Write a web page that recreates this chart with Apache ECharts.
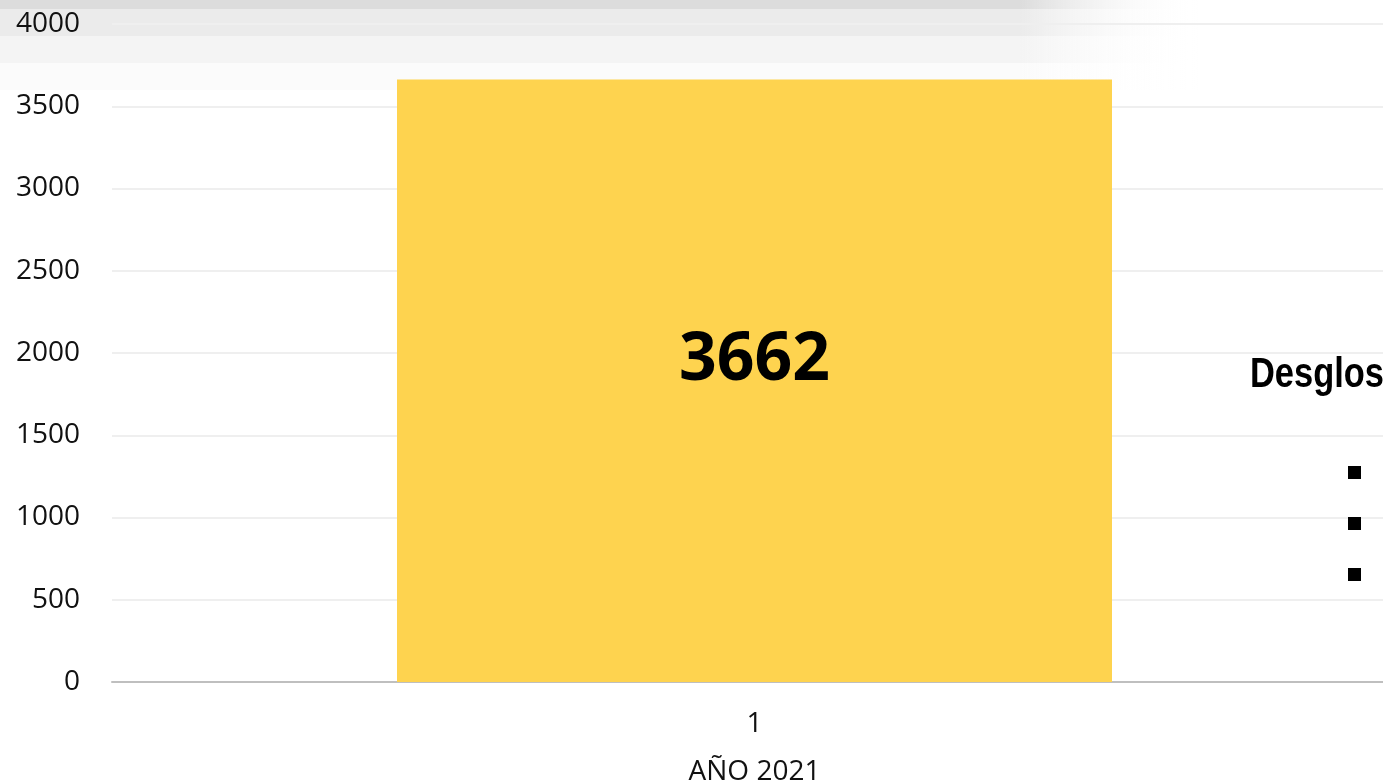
<!DOCTYPE html>
<html><head><meta charset="utf-8">
<script src="https://cdn.jsdelivr.net/npm/echarts@6/dist/echarts.min.js"></script>
<style>html,body{margin:0;padding:0;background:#fff}#c{width:1383px;height:784px}</style>
</head><body><div id="c"></div>
<script>
const categories = ['1'];
const values = [3662];
const yTicks = [0, 500, 1000, 1500, 2000, 2500, 3000, 3500, 4000];
const xAxisTitle = 'AÑO 2021';
const legendTitle = 'Desglos';

const chart = echarts.init(document.getElementById('c'));
function band(y, h, color) {
  return {type:'rect', z:-10, shape:{x:0,y:y,width:1200,height:h}, style:{fill:new echarts.graphic.LinearGradient(0,0,1,0,[{offset:0,color:color},{offset:0.85,color:color},{offset:1,color:'rgba(255,255,255,0)'}])}, silent:true};
}
chart.setOption({
  animation:false,
  grid:{left:112, right:-14, top:24, bottom:102, containLabel:false, outerBoundsMode:'none'},
  xAxis:{type:'category', data:categories, name:xAxisTitle, nameLocation:'middle', nameGap:76,
    nameTextStyle:{fontFamily:'Open Sans', fontSize:28, color:'#111'},
    axisLine:{lineStyle:{color:'#bfbfbf', width:2}}, axisTick:{show:false},
    axisLabel:{fontFamily:'Open Sans', fontSize:28, color:'#111', margin:28}},
  yAxis:{type:'value', min:yTicks[0], max:yTicks[yTicks.length-1], interval:500,
    axisLine:{show:false}, axisTick:{show:false},
    splitLine:{lineStyle:{color:'#efefef', width:2}},
    axisLabel:{fontFamily:'Open Sans', fontSize:28, color:'#111', margin:32, formatter:v=>String(v)}},
  graphic:[
    band(0,9,'#dcdcdc'), band(9,27,'#ebebeb'), band(36,27,'#f4f4f4'), band(63,27,'#fbfbfb'),
    {type:'text', z:100, x:1250, y:354, scaleX:0.82, style:{text:legendTitle, font:'bold 42px "Liberation Sans"', fill:'#000'}},
    {type:'rect', z:100, shape:{x:1348,y:466,width:13,height:13}, style:{fill:'#000'}},
    {type:'rect', z:100, shape:{x:1348,y:517,width:13,height:13}, style:{fill:'#000'}},
    {type:'rect', z:100, shape:{x:1348,y:568,width:13,height:13}, style:{fill:'#000'}}
  ],
  series:[{type:'bar', data:values, barWidth:715,
    itemStyle:{color:'#fed34f'},
    label:{show:true, position:'inside', offset:[0,-20], fontFamily:'Open Sans', fontWeight:'bold', fontSize:66, color:'#000'}}]
});
</script></body></html>
